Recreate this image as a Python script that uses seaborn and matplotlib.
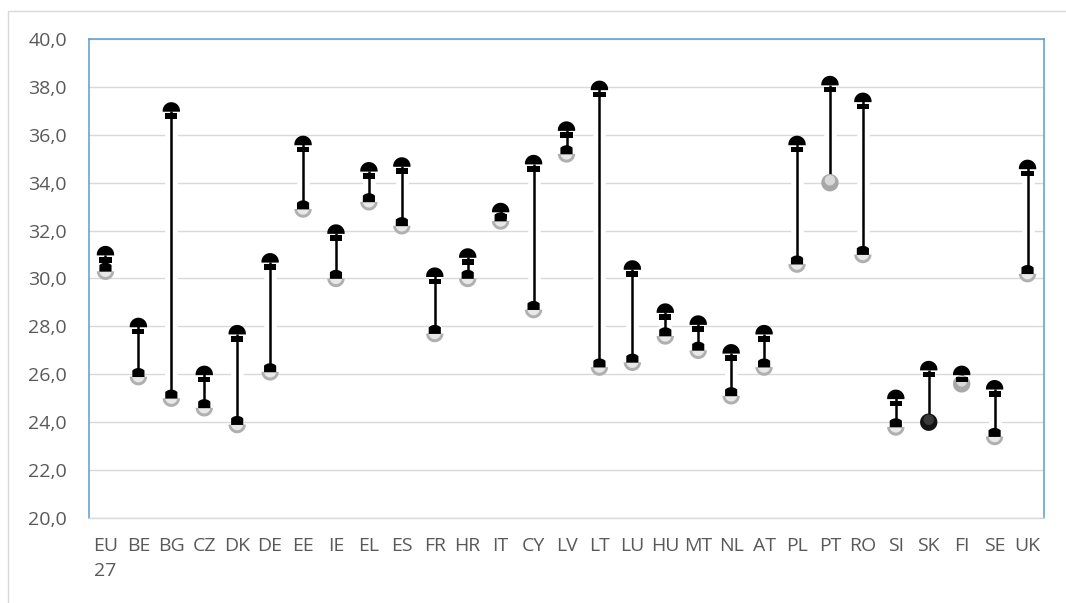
import numpy as np
import pandas as pd
import matplotlib
matplotlib.use("Agg")
import matplotlib.pyplot as plt
from matplotlib.path import Path
from matplotlib.lines import Line2D
import seaborn as sns

# ---------------- data ----------------
countries = ["EU\n27", "BE", "BG", "CZ", "DK", "DE", "EE", "IE", "EL", "ES", "FR", "HR",
             "IT", "CY", "LV", "LT", "LU", "HU", "MT", "NL", "AT", "PL", "PT", "RO",
             "SI", "SK", "FI", "SE", "UK"]
high = [31.0, 28.0, 37.0, 26.0, 27.7, 30.7, 35.6, 31.9, 34.5, 34.7, 30.1, 30.9,
        32.8, 34.8, 36.2, 37.9, 30.4, 28.6, 28.1, 26.9, 27.7, 35.6, 38.1, 37.4,
        25.0, 26.2, 26.0, 25.4, 34.6]
low = [30.3, 25.9, 25.0, 24.6, 23.9, 26.1, 32.9, 30.0, 33.2, 32.2, 27.7, 30.0,
       32.4, 28.7, 35.2, 26.3, 26.5, 27.6, 27.0, 25.1, 26.3, 30.6, 34.0, 31.0,
       23.8, 24.0, 25.6, 23.4, 30.2]
low_kind = ["cap"] * 22 + ["sphere"] + ["cap"] * 2 + ["dark", "sphere", "cap", "cap"]
yticks = [20, 22, 24, 26, 28, 30, 32, 34, 36, 38, 40]

df = pd.DataFrame({"country": countries, "x": np.arange(len(countries)),
                   "high": high, "low": low, "kind": low_kind})

# ---------------- marker shapes (unit circle frame) ----------------
GHOST = [(-1.0, -1.0), (1.0, 1.0)]


def make_marker(polys):
    verts, codes = [], []
    for g in GHOST:
        verts.append(g)
        codes.append(Path.MOVETO)
    for poly in polys:
        verts.append(poly[0]); codes.append(Path.MOVETO)
        for p in poly[1:]:
            verts.append(p); codes.append(Path.LINETO)
        verts.append(poly[0]); codes.append(Path.CLOSEPOLY)
    return Path(verts, codes)


def arc(t0, t1, r=1.0, cx=0.0, cy=0.0, n=60):
    t = np.linspace(t0, t1, n)
    return [(cx + r * np.cos(a), cy + r * np.sin(a)) for a in t]


a0 = np.arcsin(-0.10)
high_dome = make_marker([arc(a0, np.pi - a0)])
high_cap = make_marker([[(-0.70, -0.28), (0.70, -0.28), (0.70, -0.92), (-0.70, -0.92)]])

low_cap_poly = [(0.70, -0.04)] + arc(np.arccos(0.70), np.pi - np.arccos(0.70)) + [(-0.70, -0.04)]
low_cap = make_marker([low_cap_poly])
low_half = make_marker([arc(np.pi, 2 * np.pi)])
low_half_hi = make_marker([arc(np.pi, 2 * np.pi, r=0.70, cy=0.05)])
sphere = make_marker([arc(0, 2 * np.pi)])
sphere_hi = make_marker([arc(0, 2 * np.pi, r=0.6, cy=0.28)])

# ---------------- figure ----------------
sns.set_theme(style="white")
plt.rcParams["font.family"] = ["Open Sans", "DejaVu Sans"]

fig = plt.figure(figsize=(10.66, 6.03), dpi=100)
ax = fig.add_axes([89 / 1066, 85 / 603, 955 / 1066, 479 / 603])

ax.set_xlim(-0.5, len(countries) - 0.5)
ax.set_ylim(20, 40)
ax.set_yticks(yticks)
ax.set_yticklabels([f"{v:.1f}".replace(".", ",") for v in yticks])
ax.set_xticks(df["x"])
ax.set_xticklabels(countries, linespacing=1.5)
ax.tick_params(axis="both", length=0, labelsize=14, labelcolor="#595959")
ax.tick_params(axis="y", pad=16)
ax.tick_params(axis="x", pad=14)
ax.yaxis.grid(True, color="#d9d9d9", linewidth=1.0)
ax.set_axisbelow(True)
for s in ["left", "top", "right"]:
    ax.spines[s].set_color("#5b9bd5")
    ax.spines[s].set_linewidth(1.1)
ax.spines["bottom"].set_color("#d9d9d9")
ax.spines["bottom"].set_linewidth(1.0)

# white halo that interrupts gridlines, then black high-low lines
ax.vlines(df["x"], df["low"], df["high"], color="white", linewidth=9, zorder=1.5)
ax.vlines(df["x"], df["low"], df["high"], color="black", linewidth=1.8, zorder=2)

S = 12.5 ** 2
common = dict(ax=ax, legend=False, linewidth=0, edgecolor="none", zorder=3)

caps = df[df["kind"] == "cap"]
sph = df[df["kind"] == "sphere"]
dark = df[df["kind"] == "dark"]

# low markers
sns.scatterplot(data=caps, x="x", y="low", marker=low_half, s=S, color="#b0b0b0", **common)
sns.scatterplot(data=caps, x="x", y="low", marker=low_half_hi, s=S, color="#e8e8e8", **common)
sns.scatterplot(data=caps, x="x", y="low", marker=low_cap, s=S, color="black", **common)
sns.scatterplot(data=sph, x="x", y="low", marker=sphere, s=S, color="#a8a8a8", **common)
sns.scatterplot(data=sph, x="x", y="low", marker=sphere_hi, s=S, color="#d8d8d8", **common)
sns.scatterplot(data=dark, x="x", y="low", marker=sphere, s=S, color="#141414", **common)
sns.scatterplot(data=dark, x="x", y="low", marker=sphere_hi, s=S, color="#3a3a3a", **common)

# high markers
sns.scatterplot(data=df, x="x", y="high", marker=high_dome, s=S, color="black", **common)
sns.scatterplot(data=df, x="x", y="high", marker=high_cap, s=S, color="black", **common)

ax.set_xlabel("")
ax.set_ylabel("")

# outer chart-area border
fig.add_artist(Line2D([7.5 / 1066, 7.5 / 1066], [-0.05, 1 - 10.5 / 603],
                      transform=fig.transFigure, color="#d9d9d9", linewidth=1.0))
fig.add_artist(Line2D([7.5 / 1066, 1.05], [1 - 10.5 / 603, 1 - 10.5 / 603],
                      transform=fig.transFigure, color="#d9d9d9", linewidth=1.0))

fig.savefig("out.png", dpi=100)
